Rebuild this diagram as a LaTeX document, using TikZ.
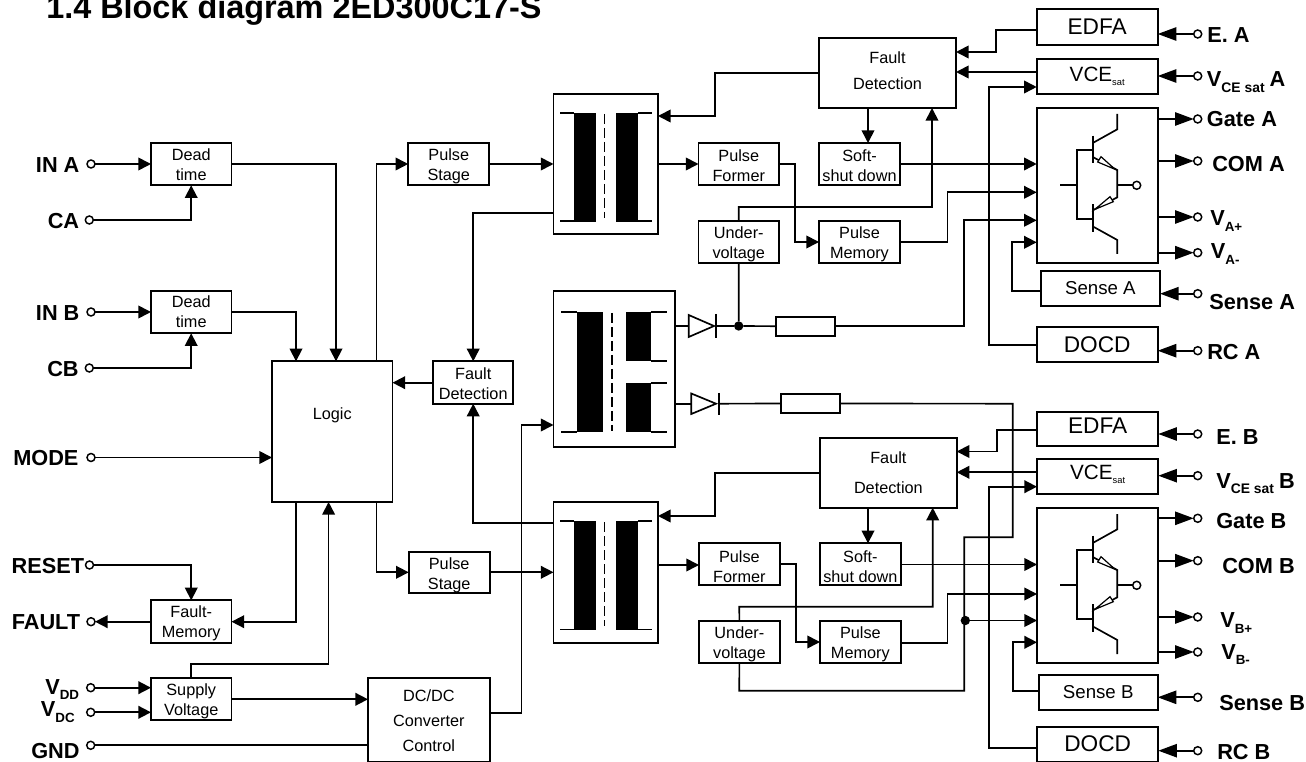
\documentclass[tikz,border=0pt]{standalone}
\usepackage{fontspec}
\setmainfont{Liberation Sans}
\usetikzlibrary{arrows.meta}
\tikzset{
  box/.style={draw,line width=1.3pt,inner sep=0pt,outer sep=0pt,align=center,font=\fontsize{12.2pt}{15pt}\selectfont},
  two/.style={text height=25pt,text depth=0pt},
  twoh/.style={text height=26.6pt,text depth=0pt},
  twol/.style={text height=23.2pt,text depth=0pt},
  wire/.style={line width=1.25pt},
  arr/.style={wire,-{Triangle[length=9.5pt,width=9.5pt]}},
  barr/.style={wire,-{Triangle[length=14pt,width=10pt]}},
  term/.style={circle,draw,fill=white,line width=1.1pt,minimum size=6pt,inner sep=0pt,outer sep=0pt},
  lab/.style={anchor=base west,inner sep=0pt,font=\fontsize{16.3pt}{18pt}\selectfont\bfseries},
  dot/.style={circle,fill=black,minimum size=7pt,inner sep=0pt,outer sep=0pt},
  core/.style={fill=black},
  dashline/.style={line width=1.25pt,dash pattern=on 7.5pt off 3pt},
}
\newcommand{\bx}[7][]{%
  \pgfmathsetmacro\cxx{(#3+#5)/2}\pgfmathsetmacro\cyy{(#4+#6)/2}%
  \pgfmathsetmacro\www{(#5-#3)*0.75}\pgfmathsetmacro\hhh{(#6-#4)*0.75}%
  \node[box,minimum width=\www pt,minimum height=\hhh pt,#1] (#2) at (\cxx,\cyy) {#7};}
\newcommand{\subt}[1]{\raisebox{-4.2pt}{\fontsize{10pt}{12pt}\selectfont #1}}
\newcommand{\subw}[1]{\raisebox{-4.2pt}{\fontsize{10.4pt}{12pt}\selectfont #1}}
\newcommand{\vce}{VCE\raisebox{-3.6pt}{\fontsize{7pt}{8pt}\selectfont sat}}
\begin{document}
\begin{tikzpicture}[x=0.75pt,y=-0.75pt]
\useasboundingbox (0,0) rectangle (1306,762);
\node[anchor=base west,inner sep=0pt,font=\fontsize{24.3pt}{26pt}\selectfont\bfseries] (title) at (46,19) {1.4 Block diagram 2ED300C17-S};

% left blocks
\bx[two]{dA}{151}{143.3}{231.4}{185.3}{Dead\\time}
\bx[text height=23.6pt,text depth=0pt]{dB}{151}{290.7}{231.4}{333.3}{Dead\\time}
\bx[text depth=27pt]{logic}{272}{361.3}{392.5}{502}{Logic}
\bx[two]{psA}{408.2}{143.3}{489.3}{185.3}{Pulse\\Stage}
\bx[two]{psB}{408.7}{551.7}{489.7}{593.3}{Pulse\\Stage}
\bx[two]{fdL}{433.2}{361.3}{513.2}{403.7}{Fault\\Detection}
\bx[twol]{fm}{151}{600.3}{231.5}{643.3}{Fault-\\Memory}
\bx[two]{sv}{151}{678.3}{231.5}{720.3}{Supply\\Voltage}
\bx[text height=48pt,text depth=0pt,font=\fontsize{12.2pt}{18.75pt}\selectfont]{dc}{368}{678.3}{489.7}{761.5}{DC/DC\\Converter\\Control}

% transformers
\bx{tA}{553.5}{94}{658}{234}{}
\bx{tM}{553.5}{290.7}{674.7}{446.7}{}
\bx{tB}{553.5}{502}{658}{643.3}{}
\fill[core] (574,113) rectangle (596,222);
\fill[core] (616,113) rectangle (638,222);
\draw[wire] (560,113)--(574,113) (560,221)--(574,221) (638,113)--(652,113) (638,221)--(652,221);
\draw[dashline] (604.5,114)--(604.5,218);
\fill[core] (574,521) rectangle (596,630);
\fill[core] (616,521) rectangle (638,630);
\draw[wire] (560,521)--(574,521) (560,629.5)--(574,629.5) (638,521)--(652,521) (638,629.5)--(652,629.5);
\draw[dashline] (604.5,522)--(604.5,626);
\fill[core] (577,312) rectangle (602.7,432);
\fill[core] (625.7,312) rectangle (650.7,361);
\fill[core] (625.7,382.7) rectangle (650.7,432);
\draw[wire] (561,312)--(577,312) (561,432)--(577,432) (650.7,312)--(667,312) (650.7,361)--(667,361) (650.7,382.7)--(667,382.7) (650.7,432)--(667,432);
\draw[dashline] (612.3,313)--(612.3,431);

% A channel blocks
\bx[text depth=3pt,font=\fontsize{12.2pt}{19.5pt}\selectfont]{fdA}{819}{38}{956}{108}{Fault\\Detection}
\bx[twoh]{pfA}{698.5}{143}{779}{185}{Pulse\\Former}
\bx[twoh]{ssA}{819}{143}{900}{185}{Soft-\\shut down}
\bx[two]{uvA}{698.5}{221}{779}{263}{Under-\\voltage}
\bx[two]{pmA}{819}{221}{900}{263}{Pulse\\Memory}
\bx[font=\fontsize{17pt}{18pt}\selectfont]{edA}{1036.7}{9.3}{1157.7}{44.7}{EDFA}
\bx[font=\fontsize{15.5pt}{18pt}\selectfont]{vcA}{1036.7}{59}{1157.7}{93.7}{\vce}
\bx{igA}{1036.7}{108.3}{1157.7}{262.7}{}
\bx[font=\fontsize{14pt}{16pt}\selectfont]{seA}{1040.7}{271}{1160}{305.7}{Sense A}
\bx[font=\fontsize{17pt}{18pt}\selectfont]{doA}{1036.7}{326.7}{1157.7}{361.7}{DOCD}
% B channel blocks
\bx[font=\fontsize{12.2pt}{22.5pt}\selectfont]{fdB}{820}{437.7}{956.7}{507.7}{Fault\\Detection}
\bx[twoh]{pfB}{699}{543.3}{779.7}{585.3}{Pulse\\Former}
\bx[twoh]{ssB}{820}{543.3}{900.7}{585.3}{Soft-\\shut down}
\bx[two]{uvB}{699}{620.7}{779.7}{663}{Under-\\voltage}
\bx[two]{pmB}{820}{620.7}{900.7}{663}{Pulse\\Memory}
\bx[text depth=4.5pt,font=\fontsize{17pt}{18pt}\selectfont]{edB}{1037}{411.7}{1158.3}{446.3}{EDFA}
\bx[text depth=7pt,font=\fontsize{15.5pt}{18pt}\selectfont]{vcB}{1037}{459}{1158.3}{494}{\vce}
\bx{igB}{1037}{508}{1158.3}{663}{}
\bx[font=\fontsize{14pt}{16pt}\selectfont]{seB}{1038.7}{675}{1157.7}{710}{Sense B}
\bx[font=\fontsize{17pt}{18pt}\selectfont]{doB}{1037}{726.7}{1158.3}{761.5}{DOCD}

% IGBT symbols
\foreach \off in {0,400}{
\begin{scope}[shift={(0,\off)}]
  \draw[wire] (1060,185.3)--(1076.7,185.3);
  \draw[wire] (1092.7,150)--(1076.7,150)--(1076.7,218.7)--(1092.7,218.7);
  \draw[wire] (1092.7,135.7)--(1092.7,163.3);
  \draw[wire] (1092.7,204.3)--(1092.7,232);
  \draw[wire] (1117.3,114)--(1117.3,129.3)--(1093.3,142.7);
  \draw[wire] (1093.3,157.3)--(1117.3,170)--(1117.3,197.3)--(1093.3,210);
  \draw[wire] (1093.3,226.7)--(1117.3,240)--(1117.3,254);
  \draw[wire] (1117.3,185.3)--(1133,185.3);
  \draw[fill=white,line width=1.1pt] (1136.7,185.3) circle[radius=3pt];
  \draw[line width=0.9pt,fill=white] (1115,169.3)--(1101,156.7)--(1097.7,162)--cycle;
  \draw[line width=0.9pt,fill=white] (1095,209.3)--(1110,196.7)--(1113.3,201.7)--cycle;
\end{scope}}

% terminals left
\node[term] (tINA) at (91,164) {};
\node[term] (tCA) at (89.3,220) {};
\node[term] (tINB) at (91,312) {};
\node[term] (tCB) at (89.3,368) {};
\node[term] (tMODE) at (91,457.5) {};
\node[term] (tRST) at (89.5,565) {};
\node[term] (tFLT) at (91,621.7) {};
\node[term] (tVDD) at (90.7,687.7) {};
\node[term] (tVDC) at (90.7,712.3) {};
\node[term] (tGND) at (90.7,745.3) {};
% terminals right A
\node[term] (tEA) at (1197.7,34) {};
\node[term] (tVA) at (1197.7,76) {};
\node[term] (tGA) at (1197.7,119) {};
\node[term] (tCOA) at (1197.7,161) {};
\node[term] (tPA) at (1197.7,217) {};
\node[term] (tMA) at (1197.7,252.7) {};
\node[term] (tSA) at (1197.7,293.7) {};
\node[term] (tRA) at (1197.7,350.7) {};
% terminals right B
\node[term] (tEB) at (1197.7,434) {};
\node[term] (tVB) at (1197.7,475.7) {};
\node[term] (tGB) at (1197.7,518.3) {};
\node[term] (tCOB) at (1197.7,560.7) {};
\node[term] (tPB) at (1197.7,617) {};
\node[term] (tMB) at (1197.7,652) {};
\node[term] (tSB) at (1197.7,697.3) {};
\node[term] (tRB) at (1197.7,750.7) {};

% labels left
\node[lab] (lINA) at (35.7,172.5) {IN A};
\node[lab] (lCA) at (47.5,229) {CA};
\node[lab] (lINB) at (35.7,321) {IN B};
\node[lab] (lCB) at (47,377) {CB};
\node[lab] (lMODE) at (13,466) {MODE};
\node[lab] (lRST) at (11.4,573) {RESET};
\node[lab] (lFLT) at (11.5,629.5) {FAULT};
\node[lab] (lVDD) at (45,694) {V\subt{DD}};
\node[lab] (lVDC) at (40.7,716.7) {V\subt{DC}};
\node[lab] (lGND) at (31,758) {GND};
% labels right
\node[lab] (lEA) at (1207,43) {E. A};
\node[lab] (lVA) at (1206.7,86.7) {V\subw{CE sat}\hspace{3.8pt}A};
\node[lab] (lGA) at (1206.7,126.7) {Gate A};
\node[lab] (lCOA) at (1212,171.7) {COM A};
\node[lab] (lPA) at (1210,225.7) {V\subt{A+}};
\node[lab] (lMA) at (1210.7,258.7) {V\subt{A-}};
\node[lab] (lSA) at (1209,309.3) {Sense A};
\node[lab] (lRA) at (1207,359.3) {RC A};
\node[lab] (lEB) at (1216,444.3) {E. B};
\node[lab] (lVB) at (1216,488.3) {V\subw{CE sat}\hspace{3.8pt}B};
\node[lab] (lGB) at (1216,528.3) {Gate B};
\node[lab] (lCOB) at (1222,573.3) {COM B};
\node[lab] (lPB) at (1220,627.7) {V\subt{B+}};
\node[lab] (lMB) at (1221,659.3) {V\subt{B-}};
\node[lab] (lSB) at (1219,710) {Sense B};
\node[lab] (lRB) at (1217,759.5) {RC B};

% left connectors
\draw[arr] (tINA) -- (dA.west|-tINA);
\draw[arr] (tCA) -- (191.2,220) -- (dA.south);
\draw[arr] (dA.east|-0,164) -- (336,164) -- (logic.north-|336,0);
\draw[arr] (tINB) -- (dB.west|-tINB);
\draw[arr] (tCB) -- (191.2,368) -- (dB.south);
\draw[arr] (dB.east|-0,312) -- (296,312) -- (logic.north-|296,0);
\draw[arr] (tMODE) -- (logic.west|-tMODE);
\draw[arr] (tRST) -- (191.25,565) -- (fm.north);
\draw[arr] (fm.west|-tFLT) -- (tFLT);
\draw[arr] (logic.south-|296,0) -- (296,621.7) -- (fm.east|-0,621.7);
\draw[arr] (tVDD) -- (sv.west|-tVDD);
\draw[arr] (tVDC) -- (sv.west|-tVDC);
\draw[wire] (tGND) -- (dc.west|-tGND);
\draw[arr] (sv.north) -- (191.25,664) -- (328.6,664) -- (logic.south-|328.6,0);
\draw[arr] (sv.east|-0,699.3) -- (dc.west|-0,699.3);
\draw[arr] (dc.east|-0,713) -- (521.4,713) -- (521.4,425) -- (tM.west|-0,425);
\draw[arr] (logic.north-|376.6,0) -- (376.6,164) -- (psA.west|-0,164);
\draw[arr] (psA.east|-0,164) -- (tA.west|-0,164);
\draw[arr] (logic.south-|376.6,0) -- (376.6,572.3) -- (psB.west|-0,572.3);
\draw[arr] (psB.east|-0,572.3) -- (tB.west|-0,572.3);
\draw[arr] (fdL.west|-0,382.7) -- (logic.east|-0,382.7);
\draw[arr] (tA.west|-0,213.3) -- (473.2,213.3) -- (fdL.north);
\draw[arr] (tB.west|-0,523) -- (473.2,523) -- (fdL.south);

% channel A connectors
\draw[arr] (fdA.west|-0,73) -- (715,73) -- (715,116) -- (tA.east|-0,116);
\draw[arr] (tA.east|-0,164) -- (pfA.west|-0,164);
\draw[arr] (pfA.east|-0,164) -- (795,164) -- (795,242) -- (pmA.west|-0,242);
\draw[arr] (fdA.south-|868,0) -- (ssA.north-|868,0);
\draw[arr] (uvA.north) -- (738.7,207) -- (932,207) -- (fdA.south-|932,0);
\draw[arr] (ssA.east|-0,164) -- (igA.west|-0,164);
\draw[arr] (pmA.east|-0,242) -- (947.5,242) -- (947.5,192.3) -- (igA.west|-0,192.3);
\coordinate (diAin) at (688.7,326);
\coordinate (diAout) at (716.3,326);
\node[dot] (jA) at (738.7,326) {};
\bx{fuA}{776}{316.7}{834.7}{335.7}{}
\draw[wire] (tM.east|-0,326) -- (diAin);
\draw[wire] (688.7,315)--(714,326)--(688.7,337)--cycle;
\draw[wire] (716.3,314)--(716.3,338);
\draw[wire] (diAout) -- (jA) -- (fuA.west);
\draw[wire] (uvA.south) -- (jA);
\draw[arr] (fuA.east) -- (964,326.2) -- (964,220.3) -- (igA.west|-0,220.3);
\draw[arr] (seA.west|-0,291) -- (1012.3,291) -- (1012.3,242.3) -- (igA.west|-0,242.3);
\draw[arr] (edA.west|-0,30) -- (996.3,30) -- (996.3,52) -- (fdA.east|-0,52);
\draw[arr] (vcA.west|-0,72) -- (fdA.east|-0,72);
\draw[arr] (doA.west|-0,345) -- (988.7,345) -- (988.7,87) -- (vcA.west|-0,87);
\draw[barr] (tEA) -- (edA.east|-tEA);
\draw[barr] (tVA) -- (vcA.east|-tVA);
\draw[barr] (igA.east|-tGA) -- (tGA);
\draw[barr] (igA.east|-tCOA) -- (tCOA);
\draw[barr] (igA.east|-tPA) -- (tPA);
\draw[barr] (igA.east|-tMA) -- (tMA);
\draw[barr] (tSA) -- (seA.east|-tSA);
\draw[barr] (tRA) -- (doA.east|-tRA);

% channel B connectors
\draw[arr] (fdB.west|-0,473) -- (715,473) -- (715,516) -- (tB.east|-0,516);
\draw[arr] (tB.east|-0,565) -- (pfB.west|-0,565);
\draw[arr] (pfB.east|-0,564) -- (796,564) -- (796,642) -- (pmB.west|-0,642);
\draw[arr] (fdB.south-|868,0) -- (ssB.north-|868,0);
\draw[arr] (uvB.north) -- (739.3,606.7) -- (932.7,606.7) -- (fdB.south-|932.7,0);
\draw[arr] (ssB.east|-0,564.5) -- (igB.west|-0,564.5);
\draw[arr] (pmB.east|-0,642.7) -- (947.5,642.7) -- (947.5,594) -- (igB.west|-0,594);
\coordinate (diBin) at (691.3,403.7);
\coordinate (diBout) at (719,403.7);
\bx{fuB}{781}{394}{840}{413}{}
\draw[wire] (tM.east|-0,403.7) -- (diBin);
\draw[wire] (691.3,393.5)--(716,403.7)--(691.3,414)--cycle;
\draw[wire] (719,393)--(719,415);
\draw[wire] (diBout) -- (fuB.west);
\node[dot] (jB) at (965.3,620.5) {};
\draw[wire] (fuB.east) -- (1012.7,403.7) -- (1012.7,537.3) -- (964.3,537.3) -- (964.3,690.7) -- (739.3,690.7) -- (uvB.south);
\draw[arr] (jB) -- (igB.west|-jB);
\draw[arr] (seB.west|-0,690.7) -- (1012.7,690.7) -- (1012.7,642.3) -- (igB.west|-0,642.3);
\draw[arr] (edB.west|-0,430.3) -- (996.7,430.3) -- (996.7,451.5) -- (fdB.east|-0,451.5);
\draw[arr] (vcB.west|-0,472.3) -- (fdB.east|-0,472.3);
\draw[arr] (doB.west|-0,747.7) -- (988.7,747.7) -- (988.7,486.7) -- (vcB.west|-0,486.7);
\draw[barr] (tEB) -- (edB.east|-tEB);
\draw[barr] (tVB) -- (vcB.east|-tVB);
\draw[barr] (igB.east|-tGB) -- (tGB);
\draw[barr] (igB.east|-tCOB) -- (tCOB);
\draw[barr] (igB.east|-tPB) -- (tPB);
\draw[barr] (igB.east|-tMB) -- (tMB);
\draw[barr] (tSB) -- (seB.east|-tSB);
\draw[barr] (tRB) -- (doB.east|-tRB);
\end{tikzpicture}
\end{document}
